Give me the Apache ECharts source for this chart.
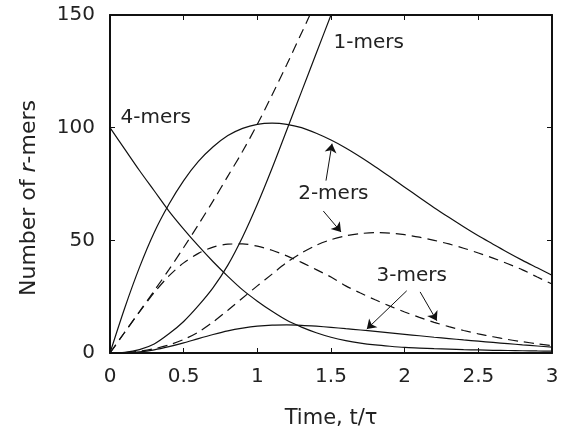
<!DOCTYPE html>
<html>
<head>
  <meta charset="utf-8">
  <script src="https://cdn.jsdelivr.net/npm/echarts@6/dist/echarts.min.js"></script>
  <style>
    html, body { margin: 0; padding: 0; background: #fff; }
    #chart { width: 569px; height: 434px; }
  </style>
</head>
<body>
  <div id="chart"></div>
  <script>
    // time axis (t / tau)
    const time = [0, 0.1, 0.2, 0.3, 0.4, 0.5, 0.6, 0.7, 0.8, 0.9, 1.0, 1.1, 1.2, 1.3, 1.4, 1.5,
      1.6, 1.7, 1.8, 1.9, 2.0, 2.1, 2.2, 2.3, 2.4, 2.5, 2.6, 2.7, 2.8, 2.9, 3.0];

    // solid curves
    const mers4 = [100, 90.5, 81, 72, 63, 55, 47.5, 40.5, 34, 28, 23, 18.5, 14.5, 11.5, 9, 7,
      5.5, 4.4, 3.6, 3.0, 2.5, 2.2, 1.9, 1.7, 1.5, 1.35, 1.2, 1.1, 1.0, 0.9, 0.85];
    const mers1Solid = [0, 0.3, 1.5, 4, 8.5, 14, 21, 29, 39, 51.5, 66, 82, 99, 116, 133, 150, 167];
    const mers2Solid = [0, 20, 38, 53.5, 66, 76.5, 85, 91.5, 96.5, 99.7, 101.5, 102, 101.5, 100, 97.5, 94.5,
      91, 87, 82.7, 78.2, 73.6, 69, 64.5, 60.2, 56, 52, 48.3, 44.6, 41.1, 37.8, 34.5];
    const mers3Solid = [0, 0.1, 0.5, 1.4, 2.8, 4.5, 6.4, 8.2, 9.8, 11, 11.9, 12.4, 12.5, 12.3, 11.9, 11.4,
      10.8, 10.2, 9.6, 8.95, 8.3, 7.65, 7.0, 6.4, 5.8, 5.25, 4.7, 4.15, 3.6, 3.1, 2.6];

    // dashed curves
    const mers1Dashed = [0, 9.2, 18.4, 27.6, 37, 46.8, 57, 67.5, 78.5, 89.5, 101.5, 114.5, 128, 142, 156];
    const mers2Dashed = [0, 0.2, 0.8, 1.9, 3.6, 6.0, 9.3, 13.8, 19, 24.4, 29.8, 35, 40.2, 44.4, 47.8, 50.3,
      52, 53, 53.4, 53.2, 52.5, 51.4, 50, 48.4, 46.5, 44.4, 42.1, 39.6, 36.9, 33.7, 30.6];
    const mers3Dashed = [0, 9.2, 18.2, 26.8, 34.2, 40, 44.2, 47, 48.3, 48.4, 47.4, 45.6, 43.1, 40.2, 37, 33.7,
      29.8, 26.6, 23.6, 20.8, 18.2, 15.8, 13.6, 11.7, 10, 8.5, 7.2, 6, 5, 4.1, 3.3];

    const FONT = 'DejaVu Sans';
    const INK = '#111';

    function pairs(vals) {
      let out = [];
      for (let i = 0; i < vals.length; i++)
        out.push([time[i], vals[i]]);
      return out;
    }

    function curve(name, vals, dashed) {
      return {
        name: name,
        type: 'line',
        data: pairs(vals),
        showSymbol: false,
        smooth: 0.3,
        lineStyle: { color: INK, width: 1.2, type: dashed ? [10, 6] : 'solid' },
        z: 3
      };
    }

    function axisCommon(showLabel) {
      return {
        axisLine: { show: true, onZero: false, lineStyle: { color: INK, width: 2 } },
        axisTick: { show: true, inside: true, length: 5, lineStyle: { color: INK, width: 1 } },
        splitLine: { show: false },
        axisLabel: { show: showLabel, color: '#222', fontSize: 20, fontFamily: FONT }
      };
    }

    let chart = echarts.init(document.getElementById('chart'));

    let s4 = curve('4-mers', mers4, false);
    s4.markPoint = {
      symbol: 'circle',
      symbolSize: 1,
      itemStyle: { color: 'rgba(0,0,0,0)' },
      silent: true,
      label: { show: true, position: 'inside', formatter: '{b}', color: '#222', fontSize: 20, fontFamily: FONT },
      data: [
        { name: '4-mers', coord: [0.31, 104.4] },
        { name: '1-mers', coord: [1.756, 137.8] },
        { name: '2-mers', coord: [1.516, 70.6] },
        { name: '3-mers', coord: [2.048, 34.1] }
      ]
    };
    s4.markLine = {
      silent: true,
      symbol: ['none', 'arrow'],
      symbolSize: 9,
      label: { show: false },
      lineStyle: { color: INK, width: 1, type: 'solid' },
      data: [
        [{ coord: [1.466, 76.5] }, { coord: [1.507, 92.9] }],
        [{ coord: [1.448, 63.0] }, { coord: [1.568, 53.7] }],
        [{ coord: [2.014, 27.6] }, { coord: [1.743, 10.6] }],
        [{ coord: [2.105, 27.1] }, { coord: [2.218, 14.3] }]
      ]
    };

    let option = {
      animation: false,
      backgroundColor: '#fff',
      grid: { left: 110, right: 17, top: 15, bottom: 80, containLabel: false },
      xAxis: [
        Object.assign(axisCommon(true), {
          type: 'value', min: 0, max: 3, interval: 0.5, position: 'bottom',
          name: 'Time, t/\u03c4', nameLocation: 'middle', nameGap: 55,
          nameTextStyle: { color: '#222', fontSize: 21, fontFamily: FONT }
        }),
        Object.assign(axisCommon(false), {
          type: 'value', min: 0, max: 3, interval: 0.5, position: 'top'
        })
      ],
      yAxis: [
        Object.assign(axisCommon(true), {
          type: 'value', min: 0, max: 150, interval: 50, position: 'left',
          name: 'Number of {i|r}-mers', nameLocation: 'middle', nameGap: 70,
          nameTextStyle: {
            color: '#222', fontSize: 22, fontFamily: FONT, padding: [0, 28, 0, 0],
            rich: { i: { fontStyle: 'italic', fontSize: 22, fontFamily: FONT, color: '#222' } }
          }
        }),
        Object.assign(axisCommon(false), {
          type: 'value', min: 0, max: 150, interval: 50, position: 'right'
        })
      ],
      series: [
        s4,
        curve('1-mers', mers1Solid, false),
        curve('2-mers', mers2Solid, false),
        curve('3-mers', mers3Solid, false),
        curve('1-mers dashed', mers1Dashed, true),
        curve('2-mers dashed', mers2Dashed, true),
        curve('3-mers dashed', mers3Dashed, true)
      ]
    };
    option.xAxis[0].axisLabel.margin = 14;
    option.yAxis[0].axisLabel.margin = 15;
    chart.setOption(option);
  </script>
</body>
</html>
